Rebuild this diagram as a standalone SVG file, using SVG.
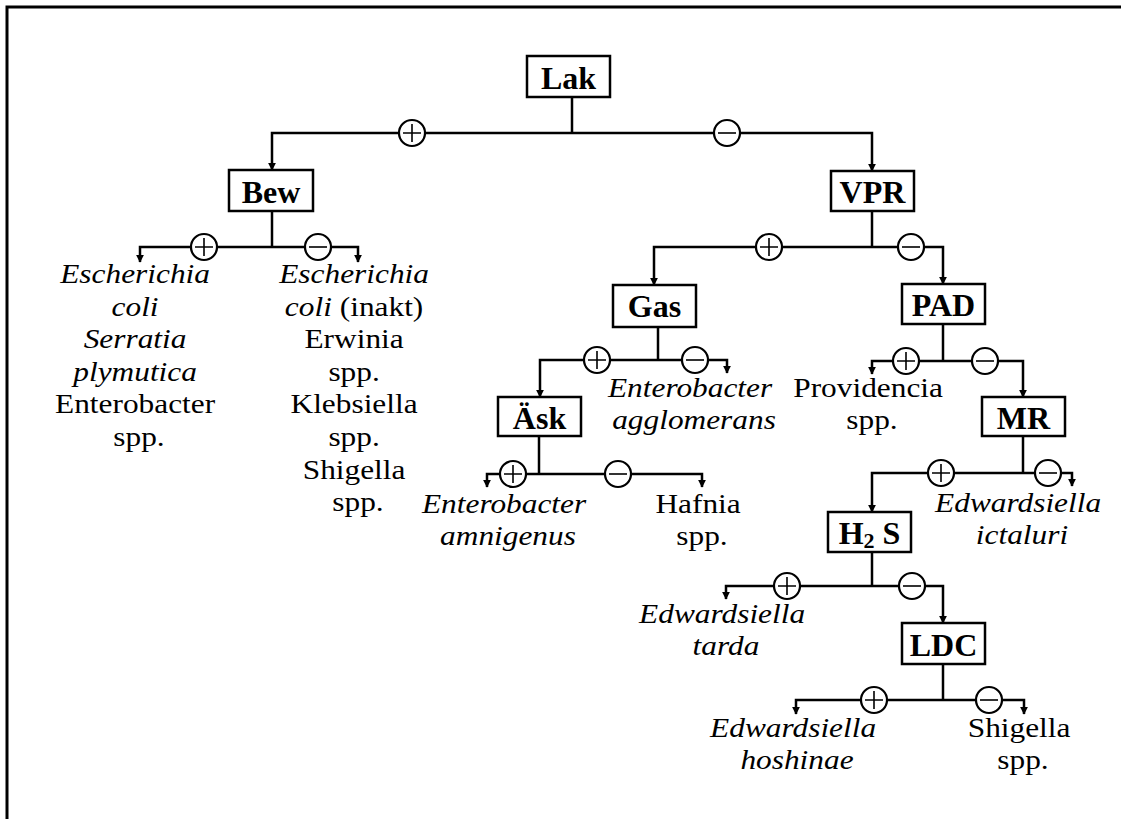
<svg xmlns="http://www.w3.org/2000/svg" width="1121" height="819" viewBox="0 0 1121 819">
  <style>
    .frame { fill: none; stroke: #000; stroke-width: 3; }
    .box rect { fill: #fff; stroke: #000; stroke-width: 2.5; }
    .box text { font-family: "Liberation Serif", "Times New Roman", serif; font-weight: bold; font-size: 32px; text-anchor: middle; fill: #000; }
    .wire { fill: none; stroke: #000; stroke-width: 2.5; }
    .arrow { fill: none; stroke: #000; stroke-width: 2.5; marker-end: url(#head); }
    .ring { fill: #fff; stroke: #000; stroke-width: 2.2; }
    .bar { fill: none; stroke: #000; stroke-width: 1.6; }
    .taxa { font-family: "Liberation Serif", "Times New Roman", serif; font-size: 28px; text-anchor: middle; fill: #000; }
    .it { font-style: italic; }
  </style>
  <defs>
    <marker id="head" viewBox="0 0 10 10" refX="9" refY="5" markerWidth="8" markerHeight="9" markerUnits="userSpaceOnUse" orient="auto">
      <path d="M0,0 L10,5 L0,10 Z" fill="#000"/>
    </marker>
    <!-- result symbols placed on the branch lines -->
    <g id="plus">
      <circle class="ring" r="13" fill="#fff" stroke="#000" stroke-width="2.2"/>
      <path class="bar" d="M-9,0 H9 M0,-9 V9" fill="none" stroke="#000" stroke-width="1.6"/>
    </g>
    <g id="minus">
      <circle class="ring" r="13" fill="#fff" stroke="#000" stroke-width="2.2"/>
      <path class="bar" d="M-9,0 H9" fill="none" stroke="#000" stroke-width="1.6"/>
    </g>
  </defs>

  <rect width="1121" height="819" fill="#fff"/>
  <path class="frame" d="M7,819 V7 H1121"/>

  <!-- connectors -->
  <g id="connectors">
    <!-- Lak -->
    <path class="wire" d="M572,97 V133"/>
    <path class="arrow" d="M572,133 H272 V170"/>
    <path class="arrow" d="M572,133 H872 V171"/>
    <!-- Bew -->
    <path class="wire" d="M272,211 V247"/>
    <path class="arrow" d="M272,247 H140 V262"/>
    <path class="arrow" d="M272,247 H358 V262"/>
    <!-- VPR -->
    <path class="wire" d="M872,211 V247"/>
    <path class="arrow" d="M872,247 H654 V285"/>
    <path class="arrow" d="M872,247 H943 V284"/>
    <!-- Gas -->
    <path class="wire" d="M658,327 V360"/>
    <path class="arrow" d="M658,360 H540 V397"/>
    <path class="arrow" d="M658,360 H727 V373"/>
    <!-- PAD -->
    <path class="wire" d="M943,324 V361"/>
    <path class="arrow" d="M943,361 H872 V374"/>
    <path class="arrow" d="M943,361 H1023 V397"/>
    <!-- Äsk -->
    <path class="wire" d="M539,436 V474"/>
    <path class="arrow" d="M539,474 H487 V487"/>
    <path class="arrow" d="M539,474 H702 V487"/>
    <!-- MR -->
    <path class="wire" d="M1023,436 V473"/>
    <path class="arrow" d="M1023,473 H872 V512"/>
    <path class="arrow" d="M1023,473 H1072 V486"/>
    <!-- H2S -->
    <path class="wire" d="M872,552 V586"/>
    <path class="arrow" d="M872,586 H726 V599"/>
    <path class="arrow" d="M872,586 H943 V623"/>
    <!-- LDC -->
    <path class="wire" d="M943,664 V700"/>
    <path class="arrow" d="M943,700 H796 V714"/>
    <path class="arrow" d="M943,700 H1024 V714"/>

    <!-- branch signs -->
    <g id="signs">
      <use href="#plus" x="412" y="133"/>
      <use href="#minus" x="727" y="133"/>
      <use href="#plus" x="204" y="247"/>
      <use href="#minus" x="318" y="247"/>
      <use href="#plus" x="769" y="247"/>
      <use href="#minus" x="911" y="247"/>
      <use href="#plus" x="597" y="360"/>
      <use href="#minus" x="695" y="360"/>
      <use href="#plus" x="906" y="361"/>
      <use href="#minus" x="985" y="361"/>
      <use href="#plus" x="513" y="474"/>
      <use href="#minus" x="618" y="474"/>
      <use href="#plus" x="941" y="473"/>
      <use href="#minus" x="1048" y="473"/>
      <use href="#plus" x="787" y="586"/>
      <use href="#minus" x="912" y="586"/>
      <use href="#plus" x="874" y="700"/>
      <use href="#minus" x="989" y="700"/>
    </g>
  </g>

  <!-- test nodes -->
  <g id="node-lak" class="box">
    <rect x="527" y="56" width="83" height="41"/>
    <text x="568.5" y="89">Lak</text>
  </g>
  <g id="node-bew" class="box">
    <rect x="229" y="170" width="84" height="41"/>
    <text x="271" y="203">Bew</text>
  </g>
  <g id="node-vpr" class="box">
    <rect x="831" y="171" width="83" height="40"/>
    <text x="872.5" y="203">VPR</text>
  </g>
  <g id="node-gas" class="box">
    <rect x="613" y="285" width="83" height="42"/>
    <text x="654.5" y="317">Gas</text>
  </g>
  <g id="node-pad" class="box">
    <rect x="902" y="284" width="83" height="40"/>
    <text x="943.5" y="316">PAD</text>
  </g>
  <g id="node-ask" class="box">
    <rect x="498" y="397" width="83" height="39"/>
    <text x="539.5" y="429">Äsk</text>
  </g>
  <g id="node-mr" class="box">
    <rect x="982" y="397" width="83" height="39"/>
    <text x="1023.5" y="429">MR</text>
  </g>
  <g id="node-h2s" class="box">
    <rect x="828" y="512" width="83" height="40"/>
    <text x="869.5" y="544">H<tspan font-size="22" dy="4">2</tspan><tspan dy="-4"> S</tspan></text>
  </g>
  <g id="node-ldc" class="box">
    <rect x="902" y="623" width="83" height="41"/>
    <text x="943.5" y="656">LDC</text>
  </g>

  <!-- result labels -->
  <g id="leaf-bew-pos">
    <text class="taxa" transform="translate(139 0) scale(1.12 1)">
      <tspan class="it" x="0" y="283">Escherichia</tspan>
      <tspan class="it" x="0" y="315.6">coli</tspan>
      <tspan class="it" x="0" y="348.2">Serratia</tspan>
      <tspan class="it" x="0" y="380.8">plymutica</tspan>
      <tspan x="0" y="413.4">Enterobacter</tspan>
      <tspan x="0" y="446">spp.</tspan>
    </text>
  </g>
  <g id="leaf-bew-neg">
    <text class="taxa" transform="translate(358 0) scale(1.12 1)">
      <tspan class="it" x="0" y="283">Escherichia</tspan>
      <tspan x="0" y="315.6"><tspan class="it">coli</tspan> (inakt)</tspan>
      <tspan x="0" y="348.2">Erwinia</tspan>
      <tspan x="0" y="380.8">spp.</tspan>
      <tspan x="0" y="413.4">Klebsiella</tspan>
      <tspan x="0" y="446">spp.</tspan>
      <tspan x="0" y="478.6">Shigella</tspan>
      <tspan x="0" y="511.2">spp.</tspan>
    </text>
  </g>
  <g id="leaf-gas-neg">
    <text class="taxa it" transform="translate(694 0) scale(1.12 1)">
      <tspan x="0" y="397">Enterobacter</tspan>
      <tspan x="0" y="429">agglomerans</tspan>
    </text>
  </g>
  <g id="leaf-pad-pos">
    <text class="taxa" transform="translate(872 0) scale(1.12 1)">
      <tspan x="0" y="397">Providencia</tspan>
      <tspan x="0" y="429">spp.</tspan>
    </text>
  </g>
  <g id="leaf-ask-pos">
    <text class="taxa it" transform="translate(508 0) scale(1.12 1)">
      <tspan x="0" y="513">Enterobacter</tspan>
      <tspan x="0" y="545">amnigenus</tspan>
    </text>
  </g>
  <g id="leaf-ask-neg">
    <text class="taxa" transform="translate(702 0) scale(1.12 1)">
      <tspan x="0" y="513">Hafnia</tspan>
      <tspan x="0" y="545">spp.</tspan>
    </text>
  </g>
  <g id="leaf-mr-neg">
    <text class="taxa it" transform="translate(1022 0) scale(1.12 1)">
      <tspan x="0" y="512">Edwardsiella</tspan>
      <tspan x="0" y="544">ictaluri</tspan>
    </text>
  </g>
  <g id="leaf-h2s-pos">
    <text class="taxa it" transform="translate(726 0) scale(1.12 1)">
      <tspan x="0" y="623">Edwardsiella</tspan>
      <tspan x="0" y="655">tarda</tspan>
    </text>
  </g>
  <g id="leaf-ldc-pos">
    <text class="taxa it" transform="translate(797 0) scale(1.12 1)">
      <tspan x="0" y="737">Edwardsiella</tspan>
      <tspan x="0" y="769">hoshinae</tspan>
    </text>
  </g>
  <g id="leaf-ldc-neg">
    <text class="taxa" transform="translate(1023 0) scale(1.12 1)">
      <tspan x="0" y="737">Shigella</tspan>
      <tspan x="0" y="769">spp.</tspan>
    </text>
  </g>
</svg>
